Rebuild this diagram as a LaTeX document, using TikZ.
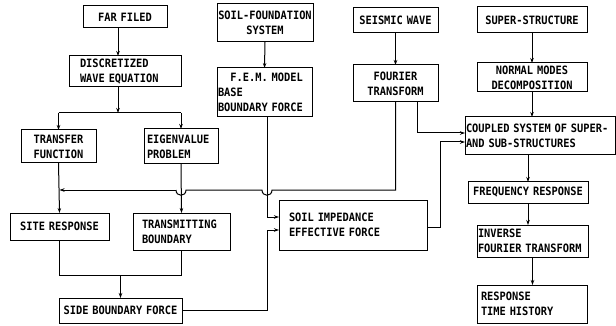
\documentclass[tikz,border=0pt]{standalone}
\usepackage{fontspec}
\newfontfamily\boxfont[FakeStretch=0.9]{DejaVu Sans Mono}
\usetikzlibrary{arrows.meta,calc}
\tikzset{
  box/.style={draw, line width=1pt, font=\boxfont\bfseries\fontsize{11.5}{15}\selectfont, inner ysep=0pt, outer sep=0pt},
  link/.style={line width=1pt},
  arr/.style={link, -{Stealth[length=5pt,width=3.5pt]}},
}
\newcommand\mybox[8]{% name, x1, y1, x2, y2, leftpad, align, text
  \pgfmathsetmacro\tw{#4-#2-2*#6}
  \pgfmathsetmacro\bh{#5-#3}
  \node[box, inner xsep=#6pt, text width=\tw pt, minimum height=\bh pt, align=#7] (#1) at ({(#2+#4)/2},{(#3+#5)/2}) {#8};}
\begin{document}
\begin{tikzpicture}[x=1pt,y=-1pt]
\useasboundingbox (0,0) rectangle (616,326);
% left column
\mybox{far}{83}{6}{167}{28}{0}{center}{FAR FILED}
\mybox{disc}{69}{56}{181}{87}{11}{left}{DISCRETIZED\\WAVE EQUATION}
\mybox{trans}{21}{130}{96}{163}{0}{center}{TRANSFER\\FUNCTION}
\mybox{eig}{144}{129}{218}{164}{3}{left}{EIGENVALUE\\PROBLEM}
\mybox{site}{10}{213}{109}{240}{0}{center}{SITE RESPONSE}
\mybox{tb}{133}{213}{230}{250}{9}{left}{TRANSMITTING\\BOUNDARY}
\mybox{side}{59}{298}{182}{323}{0}{center}{SIDE BOUNDARY FORCE}
% middle
\mybox{sfs}{217}{4}{313}{42}{0}{center}{SOIL-FOUNDATION\\SYSTEM}
\mybox{fem}{217}{68}{312}{117}{1}{left}{\phantom{XX}F.E.M. MODEL\\BASE\\BOUNDARY FORCE}
\mybox{seis}{353}{8}{438}{33}{0}{center}{SEISMIC WAVE}
\mybox{four}{353}{65}{438}{102}{0}{center}{FOURIER\\TRANSFORM}
\mybox{imp}{279}{200}{427}{250}{10}{left}{SOIL IMPEDANCE\\EFFECTIVE FORCE}
% right column
\mybox{sup}{477}{7}{587}{33}{0}{center}{SUPER-STRUCTURE}
\mybox{nmd}{477}{63}{587}{92}{0}{center}{NORMAL MODES\\DECOMPOSITION}
\mybox{cpl}{465}{117}{615}{155}{1}{left}{COUPLED SYSTEM OF SUPER-\\AND SUB-STRUCTURES}
\mybox{freq}{468}{182}{588}{203}{0}{center}{FREQUENCY RESPONSE}
\mybox{ift}{477}{225}{588}{257}{1}{left}{INVERSE\\FOURIER TRANSFORM}
\mybox{rth}{477}{285}{587}{323}{4}{left}{RESPONSE\\TIME HISTORY}
% coordinates
\coordinate (split) at ($(disc.south)+(-7,26)$);
\coordinate (hop) at ($(four.south)+(0,88)$);
\coordinate (sidecorner) at (267,230);
\coordinate (impcorner) at (440,142);
% left connectors
\draw[arr] ([xshift=-7pt]far.south) -- ([xshift=-7pt]far.south |- disc.north);
\draw[arr] ([xshift=-7pt]disc.south) -- (split);
\draw[link] (trans.north |- split) -- (eig.north |- split);
\draw[arr] (trans.north |- split) -- (trans.north);
\draw[arr] (eig.north |- split) -- (eig.north);
\draw[arr] (trans.south) -- (site.north);
\draw[arr] (eig.south) -- (tb.north);
\draw[link] (four.south) -- (hop)
  -- ($(fem.south |- hop)+(7.5,0)$) .. controls ($(fem.south |- hop)+(7.5,7)$) and ($(fem.south |- hop)+(-2.5,7)$) .. ($(fem.south |- hop)+(-2.5,0)$)
  -- ($(eig.south |- hop)+(5,0)$) .. controls ($(eig.south |- hop)+(5,7)$) and ($(eig.south |- hop)+(-5,7)$) .. ($(eig.south |- hop)+(-5,0)$);
\draw[arr] ($(eig.south |- hop)+(-5,0)$) -- (site.north |- hop);
\draw[link] (site.south) -- ($(site.south)+(0,35)$) -- ($(tb.south)+(0,25)$) -- (tb.south);
\draw[arr] (side.north |- 0,275) -- (side.north);
% middle connectors
\draw[arr] (sfs.south) -- (fem.north);
\draw[arr] ([xshift=2.5pt]fem.south) |- ([yshift=8pt]imp.west);
\draw[arr] (side.east) -| (sidecorner) -- ([yshift=-5pt]imp.west);
\draw[arr] (seis.south) -- (seis.south |- four.north);
\draw[arr] ([xshift=22pt]four.south) |- ([yshift=3pt]cpl.west);
\draw[arr] ([yshift=-2pt]imp.east) -| (impcorner) -- ([yshift=-6pt]cpl.west);
% right connectors
\draw[arr] (sup.south) -- (nmd.north);
\draw[arr] (nmd.south) -- (nmd.south |- cpl.north);
\draw[arr] (freq.north |- cpl.south) -- (freq.north);
\draw[arr] (freq.south) -- (freq.south |- ift.north);
\draw[arr] (ift.south) -- (ift.south |- rth.north);
\end{tikzpicture}
\end{document}
